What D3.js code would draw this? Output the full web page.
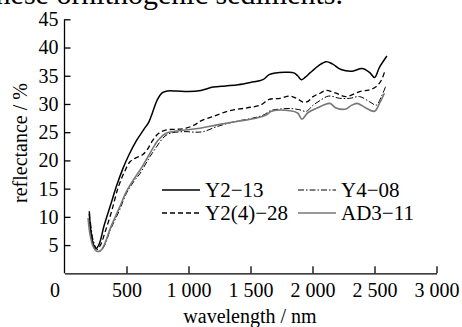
<!DOCTYPE html>
<meta charset="utf-8">
<style>
body { margin: 0; background: #fff; }
.axis path, .axis line { stroke: #000; stroke-width: 1.3; }
</style>
<svg width="462" height="327"></svg>
<script src="https://d3js.org/d3.v7.min.js"></script>
<script>

// wavelength (nm) / reflectance (%) pairs
var y2_13 = [
  [200,11.0],[215,7.0],[235,5.0],[255,4.4],[280,5.2],[320,8.5],[370,12.0],[420,15.5],
  [470,18.5],[520,21.0],[580,23.5],[640,25.5],[680,26.8],[710,28.5],[750,30.8],[790,32.0],
  [830,32.3],[900,32.3],[1000,32.2],[1100,32.4],[1200,33.0],[1300,33.2],[1400,33.4],
  [1500,33.8],[1600,34.3],[1650,35.2],[1700,35.5],[1800,35.6],[1850,35.5],[1880,35.0],
  [1910,34.3],[1940,34.7],[1980,35.5],[2050,36.8],[2110,37.5],[2160,37.1],[2230,36.1],
  [2320,35.8],[2400,36.3],[2460,35.6],[2500,34.7],[2540,36.5],[2600,38.5]
];
var y2_4_28 = [
  [200,10.5],[215,7.0],[240,4.8],[265,4.3],[290,5.0],[330,7.5],[380,11.0],[430,15.0],
  [480,17.8],[530,19.8],[580,20.5],[630,21.0],[670,22.0],[710,23.5],[760,24.8],[820,25.4],
  [900,25.5],[980,25.7],[1050,26.3],[1100,27.0],[1200,27.8],[1330,28.8],[1470,29.3],
  [1580,29.8],[1650,30.8],[1740,31.0],[1820,31.4],[1880,30.9],[1925,30.3],[1960,30.4],
  [2005,31.3],[2060,31.9],[2110,32.4],[2190,31.9],[2270,31.3],[2380,32.2],[2460,32.5],
  [2515,33.1],[2555,34.2],[2580,35.6]
];
var y4_08 = [
  [210,9.0],[230,6.0],[260,4.3],[290,4.0],[320,4.8],[370,7.7],[440,11.0],[500,14.2],
  [560,16.3],[610,17.7],[650,19.2],[690,20.7],[730,22.0],[770,23.3],[810,24.3],[850,24.8],
  [960,25.1],[1060,25.0],[1120,25.1],[1230,26.0],[1360,26.8],[1520,27.5],[1610,28.1],
  [1660,28.8],[1740,29.1],[1820,29.2],[1890,29.0],[1950,28.7],[2000,29.7],[2060,30.6],
  [2130,31.4],[2220,31.0],[2300,31.0],[2380,31.3],[2460,30.4],[2515,29.8],[2555,31.3],
  [2590,33.1]
];
var ad3_11 = [
  [190,9.8],[205,7.0],[230,4.8],[260,3.9],[290,4.0],[320,5.0],[370,8.0],[440,11.5],
  [500,14.5],[560,16.7],[610,18.3],[650,19.8],[690,21.3],[730,22.8],[760,23.7],[820,24.8],
  [900,25.2],[1060,25.6],[1230,26.3],[1390,26.9],[1550,27.5],[1630,28.1],[1670,28.7],
  [1820,28.8],[1880,28.4],[1915,27.3],[1960,28.4],[2060,29.5],[2090,29.8],[2140,30.1],
  [2190,29.3],[2270,29.1],[2310,29.7],[2360,30.1],[2430,29.3],[2500,28.7],[2540,30.1],
  [2580,31.9]
];

var xTicks = [0, 500, 1000, 1500, 2000, 2500, 3000];
var yTicks = [5, 10, 15, 20, 25, 30, 35, 40, 45];

var series = [
  {name: "Y2\u221213",    values: y2_13,   color: "#000", width: 1.5, dash: null},
  {name: "Y2(4)\u221228", values: y2_4_28, color: "#000", width: 1.3, dash: "5,3"},
  {name: "Y4\u221208",    values: y4_08,   color: "#000", width: 1.0, dash: "6,2,1.5,2"},
  {name: "AD3\u221211",   values: ad3_11,  color: "#777", width: 1.6, dash: null}
];

var serif = "'Liberation Serif'";
var svg = d3.select("svg");

var x = d3.scaleLinear().domain([0, 3000]).range([64.5, 436.5]);
var y = d3.scaleLinear().domain([0, 45]).range([273.3, 19.3]);

// clipped caption line from the page above
svg.append("text")
    .attr("x", 343).attr("y", 4)
    .attr("text-anchor", "end")
    .style("font-family", serif)
    .style("font-size", "30px")
    .text("of these ornithogenic sediments.");

var fmt = function(d) {
  return d >= 1000 ? Math.floor(d / 1000) + " " + d3.format("03d")(d % 1000) : String(d);
};

var gx = svg.append("g")
    .attr("class", "axis")
    .attr("transform", "translate(0," + y(0) + ")")
    .call(d3.axisBottom(x).tickValues(xTicks).tickFormat(fmt)
      .tickSize(-7).tickSizeOuter(0).tickPadding(10));
gx.selectAll(".tick").filter(d => d === 0).select("line").remove();
gx.selectAll(".tick").filter(d => d === 0).select("text").attr("x", -10);

var gy = svg.append("g")
    .attr("class", "axis")
    .attr("transform", "translate(" + x(0) + ",0)")
    .call(d3.axisLeft(y).tickValues(yTicks)
      .tickSize(-6).tickSizeOuter(0).tickPadding(6));
gy.select(".domain").attr("d", "M0," + y(0) + "V" + y(45));

svg.selectAll(".axis").attr("font-family", null).attr("font-size", null);
svg.selectAll(".axis text")
    .style("font-family", serif)
    .style("font-size", "20px")
    .attr("fill", "#000");

svg.append("text")
    .attr("transform", "translate(27," + 143 + ") rotate(-90)")
    .attr("text-anchor", "middle")
    .style("font-family", serif)
    .style("font-size", "20px")
    .text("reflectance / %");

svg.append("text")
    .attr("x", 250).attr("y", 323)
    .attr("text-anchor", "middle")
    .style("font-family", serif)
    .style("font-size", "20px")
    .text("wavelength / nm");

var line = d3.line()
    .x(d => x(d[0]))
    .y(d => y(d[1]))
    .curve(d3.curveCatmullRom.alpha(0.5));

svg.append("g").selectAll("path")
  .data(series)
  .join("path")
    .attr("fill", "none")
    .attr("stroke", d => d.color)
    .attr("stroke-width", d => d.width)
    .attr("stroke-dasharray", d => d.dash)
    .attr("d", d => line(d.values));

// legend, two columns
var legendPos = [[162, 190], [162, 213], [298, 190], [298, 213]];
var order = [0, 1, 2, 3];
var lg = svg.append("g").selectAll("g")
  .data(order)
  .join("g")
    .attr("transform", (d, i) => "translate(" + legendPos[i][0] + "," + legendPos[i][1] + ")");
lg.append("line")
    .attr("x1", 0).attr("x2", 38)
    .attr("stroke", d => series[d].color)
    .attr("stroke-width", d => series[d].width)
    .attr("stroke-dasharray", d => series[d].dash);
lg.append("text")
    .attr("x", 43).attr("y", 7)
    .style("font-family", serif)
    .style("font-size", "21px")
    .text(d => series[d].name);

</script>
